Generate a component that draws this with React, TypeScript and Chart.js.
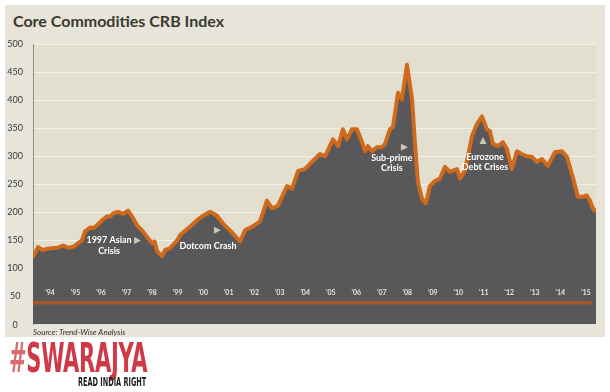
import React, { useEffect, useRef } from 'react';
import { Chart, registerables } from 'chart.js';

Chart.register(...registerables);

// Decimal-year dates and Core Commodities CRB index values
const dates = [
  1993.83, 1994.03, 1994.2, 1994.38, 1994.6, 1994.8, 1995.01, 1995.15, 1995.28, 1995.45,
  1995.6, 1995.75, 1995.87, 1996.07, 1996.2, 1996.34, 1996.54, 1996.73, 1996.85, 1996.97,
  1997.16, 1997.36, 1997.56, 1997.71, 1997.91, 1998.14, 1998.34, 1998.5, 1998.6, 1998.69,
  1998.89, 1999.01, 1999.2, 1999.48, 1999.59, 1999.99, 2000.26, 2000.5, 2000.77, 2000.9,
  2001.04, 2001.28, 2001.55, 2001.83, 2001.95, 2002.14, 2002.45, 2002.73, 2003.0, 2003.2,
  2003.43, 2003.79, 2003.98, 2004.22, 2004.49, 2004.81, 2005.08, 2005.28, 2005.59, 2005.79,
  2005.98, 2006.14, 2006.33, 2006.53, 2006.73, 2006.84, 2006.96, 2007.12, 2007.31, 2007.51,
  2007.63, 2007.82, 2007.94, 2008.14, 2008.29, 2008.49, 2008.69, 2008.8, 2008.92, 2009.08,
  2009.23, 2009.39, 2009.59, 2009.78, 2009.98, 2010.17, 2010.45, 2010.57, 2010.76, 2011.04,
  2011.23, 2011.43, 2011.62, 2011.74, 2011.86, 2012.05, 2012.25, 2012.41, 2012.6, 2012.8,
  2012.99, 2013.19, 2013.39, 2013.58, 2013.78, 2014.01, 2014.29, 2014.56, 2014.76, 2014.99,
  2015.19, 2015.39, 2015.54, 2015.66, 2015.78, 2015.9,
];
const crbIndex = [
  120, 138, 133, 135, 136, 137, 141, 138, 137, 140,
  145, 150, 166, 173, 172, 177, 186, 193, 192, 198,
  201, 197, 203, 193, 177, 166, 154, 145, 148, 131,
  122, 133, 136, 150, 159, 175, 186, 194, 201, 198,
  194, 180, 168, 154, 148, 168, 175, 184, 221, 207,
  212, 247, 242, 274, 277, 292, 304, 300, 330, 318,
  348, 330, 348, 348, 325, 309, 318, 309, 316, 316,
  322, 348, 352, 413, 401, 463, 401, 325, 254, 224,
  216, 247, 256, 260, 281, 272, 277, 260, 274, 336,
  357, 371, 348, 345, 322, 318, 325, 313, 277, 309,
  304, 300, 299, 290, 295, 283, 307, 309, 299, 263,
  228, 228, 230, 221, 207, 201,
];

// Flat reference line
const baselineValue = 39;
const baselineStart = 1993.83;
const baselineEnd = 2015.74;

// Year labels shown inside the plot
const tickYears = [
  1994, 1995, 1996, 1997, 1998, 1999, 2000, 2001, 2002, 2003, 2004,
  2005, 2006, 2007, 2008, 2009, 2010, 2011, 2012, 2013, 2014, 2015,
];
const tickLabels = tickYears.map((yr) => "'" + String(yr).slice(2));
const tickLabelValue = 56;

// Event annotations: text lines anchored in data coordinates
const annotationTexts = [['1997 Asian', 'Crisis'], ['Dotcom Crash'], ['Sub-prime', 'Crisis'], ['Eurozone', 'Debt Crises']];
const annotationX = [1996.81, 2000.69, 2007.9, 2011.55];
const annotationY = [150, 140, 297, 299];
const markerX = [1997.91, 2001.04, 2008.37, 2011.47];
const markerY = [150, 168, 316, 327];
const markerDir = ['right', 'right', 'right', 'up'];

const Y_MIN = 0;
const Y_MAX = 500;
const Y_STEP = 50;

const overlayPlugin = {
  id: 'overlay',
  beforeDraw(chart: any) {
    const { ctx, chartArea } = chart;
    ctx.save();
    ctx.fillStyle = '#e3dfcf';
    ctx.fillRect(chartArea.left, chartArea.top, chartArea.right - chartArea.left, chartArea.bottom - chartArea.top);
    ctx.restore();
  },
  afterDatasetsDraw(chart: any) {
    const { ctx } = chart;
    const x = chart.scales.x;
    const y = chart.scales.y;
    ctx.save();
    // year labels
    ctx.font = 'bold 7px Lato';
    ctx.fillStyle = '#e4e4e4';
    ctx.textAlign = 'center';
    ctx.textBaseline = 'middle';
    tickYears.forEach((yr, i) => {
      ctx.fillText(tickLabels[i], x.getPixelForValue(yr + 0.5), y.getPixelForValue(tickLabelValue));
    });
    // annotation text
    ctx.font = 'bold 9px Lato';
    ctx.fillStyle = '#ffffff';
    annotationTexts.forEach((lines, i) => {
      const px = x.getPixelForValue(annotationX[i]);
      const py = y.getPixelForValue(annotationY[i]);
      lines.forEach((t, j) => ctx.fillText(t, px, py + j * 10.5));
    });
    // markers
    ctx.fillStyle = '#cbc6b2';
    markerX.forEach((mx, i) => {
      const px = x.getPixelForValue(mx);
      const py = y.getPixelForValue(markerY[i]);
      ctx.beginPath();
      if (markerDir[i] === 'right') {
        ctx.moveTo(px - 3, py - 3.5);
        ctx.lineTo(px + 4, py);
        ctx.lineTo(px - 3, py + 3.5);
      } else {
        ctx.moveTo(px - 3.5, py + 3);
        ctx.lineTo(px, py - 4);
        ctx.lineTo(px + 3.5, py + 3);
      }
      ctx.closePath();
      ctx.fill();
    });
    ctx.restore();
  },
};

function CrbChart() {
  const ref = useRef<HTMLCanvasElement | null>(null);
  useEffect(() => {
    if (!ref.current) return;
    const chart = new Chart(ref.current, {
      type: 'line',
      data: {
        datasets: [
          {
            label: 'Baseline',
            data: [
              { x: baselineStart, y: baselineValue },
              { x: baselineEnd, y: baselineValue },
            ],
            borderColor: '#a4572a',
            borderWidth: 3.5,
            pointRadius: 0,
            fill: false,
            order: 0,
          },
          {
            label: 'CRB Index',
            data: dates.map((d, i) => ({ x: d, y: crbIndex[i] })),
            borderColor: '#cf691b',
            backgroundColor: '#58585a',
            borderWidth: 4,
            borderJoinStyle: 'round',
            pointRadius: 0,
            fill: 'origin',
            tension: 0,
            order: 1,
          },
        ],
      },
      options: {
        responsive: false,
        animation: false,
        layout: { padding: { top: 44, bottom: 13, left: 0, right: 14 } },
        plugins: { legend: { display: false }, tooltip: { enabled: false }, title: { display: false } },
        scales: {
          x: {
            type: 'linear',
            min: 1993.83,
            max: 2015.9,
            display: false,
          },
          y: {
            min: Y_MIN,
            max: Y_MAX,
            ticks: {
              stepSize: Y_STEP,
              color: '#3a3a3a',
              font: { family: 'Lato', size: 9 },
              padding: 10,
              crossAlign: 'center',
            },
            grid: { color: '#f3f0e7', lineWidth: 1, drawTicks: false },
            border: { display: true, color: '#8c8c88', width: 1 },
            afterFit: (s: any) => {
              s.width = 33;
            },
          },
        },
      },
      plugins: [overlayPlugin],
    } as any);
    return () => chart.destroy();
  }, []);
  return <canvas ref={ref} width={610} height={340} style={{ position: 'absolute', left: 0, top: 0 }} />;
}

export default function App() {
  return (
    <div style={{ position: 'absolute', left: 0, top: 0, width: 610, height: 392, background: '#ffffff', overflow: 'hidden' }}>
      <div style={{ position: 'absolute', left: 5, top: 5, width: 600, height: 332, background: '#e7e4d9' }} />
      <div
        style={{
          position: 'absolute',
          left: 13,
          top: 11,
          fontFamily: 'Lato, sans-serif',
          fontWeight: 700,
          fontSize: 16,
          lineHeight: '20px',
          color: '#3b3a2f',
          whiteSpace: 'nowrap',
        }}
      >
        Core Commodities CRB Index
      </div>
      <CrbChart />
      <div
        style={{
          position: 'absolute',
          left: 33,
          top: 327,
          fontFamily: 'Lato, sans-serif',
          fontStyle: 'italic',
          fontSize: 8,
          lineHeight: '10px',
          color: '#333333',
          whiteSpace: 'nowrap',
        }}
      >
        Source: Trend-Wise Analysis
      </div>
      <div
        style={{
          position: 'absolute',
          left: 9,
          top: 334,
          fontFamily: '"Liberation Sans Narrow", "DejaVu Sans Condensed", "Liberation Sans", sans-serif',
          fontWeight: 700,
          fontSize: 40,
          lineHeight: '48px',
          color: '#cf3a46',
          whiteSpace: 'nowrap',
          transform: 'scaleX(0.585)',
          transformOrigin: 'left top',
          letterSpacing: '-0.5px',
        }}
      >
        <span style={{ color: '#dc6a72' }}>#</span>SWARAJYA
      </div>
      <div
        style={{
          position: 'absolute',
          left: 78,
          top: 374,
          fontFamily: '"Liberation Sans Narrow", "DejaVu Sans Condensed", "Liberation Sans", sans-serif',
          fontWeight: 700,
          fontSize: 13,
          lineHeight: '15px',
          color: '#1e1e1e',
          whiteSpace: 'nowrap',
          transform: 'scaleX(0.56)',
          transformOrigin: 'left top',
        }}
      >
        READ INDIA RIGHT
      </div>
    </div>
  );
}
